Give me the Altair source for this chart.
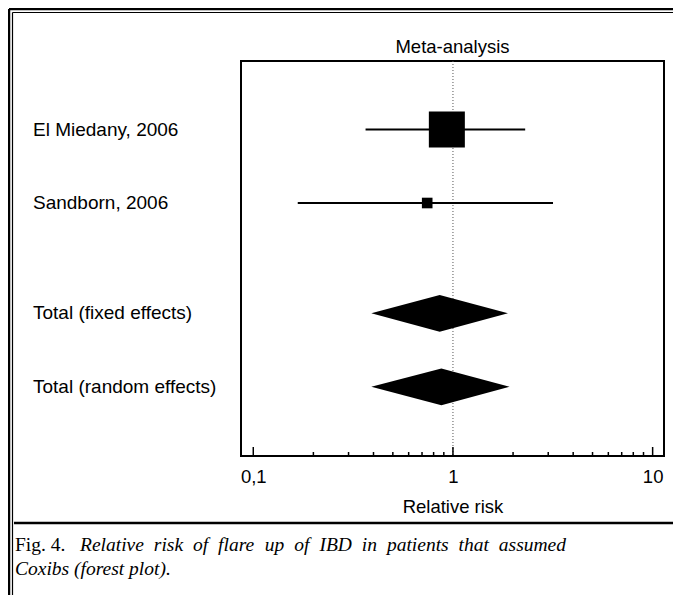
import altair as alt
import pandas as pd

# ---- data ----
labels = ["El Miedany, 2006", "Sandborn, 2006", "Total (fixed effects)", "Total (random effects)"]
row_pos = [0, 1, 2.5, 3.5]
estimate = [0.932, 0.743, 0.858, 0.875]
ci_low = [0.365, 0.167, 0.390, 0.390]
ci_high = [2.30, 3.17, 1.885, 1.92]
is_total = [False, False, True, True]
box_weight = [92, 8]  # relative box sizes of the two studies (%)

major_ticks = [0.1, 1, 10]
minor_ticks = [0.2, 0.3, 0.4, 0.5, 0.6, 0.7, 0.8, 0.9, 2, 3, 4, 5, 6, 7, 8, 9]
tick_labels = ["0,1", "1", "10"]

chart_title = "Meta-analysis"
caption_fig = "Fig. 4."
caption_line1 = "Relative risk of flare up of IBD in patients that assumed"
caption_line2 = "Coxibs (forest plot)."

# ---- layout ----
W, H = 423, 395
PAD = {"left": 233, "top": 53, "right": 9, "bottom": 139}
RIGHT = W + PAD["right"]
BOTTOM = H + PAD["bottom"]
SANS = "Liberation Sans, Arial, Helvetica, sans-serif"
SERIF = "Liberation Serif, Times New Roman, serif"
CAP_FS = 19.5

df = pd.DataFrame({"label": labels, "row": row_pos, "est": estimate,
                   "lo": ci_low, "hi": ci_high, "total": is_total})
studies = df[~df.total].copy()
studies["weight"] = box_weight
totals = df[df.total]

dia_rows = []
for _, r in totals.iterrows():
    dia_rows.append({"label": r.label, "x": r.lo, "y1": r.row, "y2": r.row})
    dia_rows.append({"label": r.label, "x": r.est, "y1": r.row - 0.25, "y2": r.row + 0.25})
    dia_rows.append({"label": r.label, "x": r.hi, "y1": r.row, "y2": r.row})
dia = pd.DataFrame(dia_rows)

# justified first caption line (word positions from approximate Times italic widths)
IT_W = {" ": 250, "R": 611, "e": 444, "l": 278, "a": 500, "t": 278, "i": 278, "v": 444, "r": 389,
        "s": 389, "k": 444, "o": 500, "f": 278, "u": 500, "p": 500, "I": 333, "B": 611, "D": 722,
        "n": 500, "h": 500, "m": 722, "d": 500}
def it_width(w):
    return sum(IT_W.get(c, 500) for c in w) * CAP_FS / 1000.0
words = caption_line1.split(" ")
line_start, line_end = 80 - 241, 566 - 241
natural = sum(it_width(w) for w in words)
gap = (line_end - line_start - natural) / (len(words) - 1)
pos, xcur = [], line_start
for w in words:
    pos.append(xcur)
    xcur += it_width(w) + gap
cap_words = pd.DataFrame({"word": words, "px": pos})

xs = alt.Scale(type="log", domain=[0.0868, 11.4], nice=False, clamp=False)
ys = alt.Scale(domain=[-0.932, 4.442], reverse=True, nice=False, zero=False)

label_expr = "datum.value == 0.1 ? '%s' : datum.value == 1 ? '%s' : '%s'" % tuple(tick_labels)

xaxis = alt.Axis(values=major_ticks, labelExpr=label_expr, ticks=False, domain=False, grid=False,
                 labelFontSize=18.5, labelFont=SANS, labelColor="black", labelPadding=11,
                 title="Relative risk", titleFontSize=18.5, titleFont=SANS, titleFontWeight="normal",
                 titleColor="black", titlePadding=12)

ref = alt.Chart(pd.DataFrame({"ref": [1]})).mark_rule(color="#555", strokeWidth=1, strokeDash=[1, 2]).encode(
    x=alt.X("ref:Q", scale=xs, axis=xaxis))

ci = alt.Chart(studies).mark_rule(color="black", strokeWidth=2).encode(
    x=alt.X("lo:Q", scale=xs), x2="hi:Q", y=alt.Y("row:Q", scale=ys, axis=None))

boxes = alt.Chart(studies).mark_square(color="black", filled=True, opacity=1).encode(
    x=alt.X("est:Q", scale=xs), y=alt.Y("row:Q", scale=ys, axis=None),
    size=alt.Size("weight:Q", scale=alt.Scale(domain=[0, 100], range=[0, 1409]), legend=None))

diamonds = alt.Chart(dia).mark_area(color="black", orient="vertical", opacity=1).encode(
    x=alt.X("x:Q", scale=xs), y=alt.Y("y1:Q", scale=ys, axis=None), y2="y2:Q", detail="label:N")

row_text = alt.Chart(df).mark_text(align="left", baseline="middle", font=SANS, fontSize=19,
                                   color="black").encode(
    x=alt.value(33 - 241), y=alt.Y("row:Q", scale=ys, axis=None), text="label:N")

tick_major = alt.Chart(pd.DataFrame({"v": major_ticks})).mark_rule(color="black", strokeWidth=1.5).encode(
    x=alt.X("v:Q", scale=xs), y=alt.value(H), y2=alt.value(H - 9))
tick_minor = alt.Chart(pd.DataFrame({"v": minor_ticks})).mark_rule(color="black", strokeWidth=1.5).encode(
    x=alt.X("v:Q", scale=xs), y=alt.value(H), y2=alt.value(H - 4))

one = alt.Chart(pd.DataFrame({"a": [0]}))
title_mark = one.mark_text(align="center", baseline="alphabetic", font=SANS, fontSize=18.5,
                           color="black").encode(x=alt.value(W / 2), y=alt.value(-8.5),
                                                 text=alt.value(chart_title))
frame = [
    one.mark_rule(color="black", strokeWidth=2.5).encode(x=alt.value(-232), x2=alt.value(RIGHT), y=alt.value(-52)),
    one.mark_rule(color="black", strokeWidth=2.5).encode(x=alt.value(-232), y=alt.value(-52), y2=alt.value(BOTTOM)),
    one.mark_rule(color="black", strokeWidth=1.2).encode(x=alt.value(-228.5), x2=alt.value(RIGHT), y=alt.value(-48.5)),
    one.mark_rule(color="black", strokeWidth=1.2).encode(x=alt.value(-228.5), y=alt.value(-48.5), y2=alt.value(BOTTOM)),
    one.mark_rule(color="black", strokeWidth=2.5).encode(x=alt.value(-227), x2=alt.value(RIGHT), y=alt.value(462)),
]

cap = [
    one.mark_text(align="left", baseline="alphabetic", font=SERIF, fontSize=CAP_FS, color="black").encode(
        x=alt.value(-226), y=alt.value(490), text=alt.value(caption_fig)),
    alt.Chart(cap_words).mark_text(align="left", baseline="alphabetic", font=SERIF, fontSize=CAP_FS,
                                   fontStyle="italic", color="black").encode(
        x=alt.X("px:Q", scale=None), y=alt.value(490), text="word:N"),
    one.mark_text(align="left", baseline="alphabetic", font=SERIF, fontSize=CAP_FS, fontStyle="italic",
                  color="black").encode(x=alt.value(-226), y=alt.value(514), text=alt.value(caption_line2)),
]

chart = alt.layer(ref, ci, boxes, diamonds, row_text, tick_major, tick_minor, title_mark,
                  *frame, *cap).properties(
    width=W, height=H, padding=PAD, autosize="none", background="white",
).configure_view(stroke="black", strokeWidth=2)

chart.save("out.html", embed_options={"renderer": "svg", "actions": False})
